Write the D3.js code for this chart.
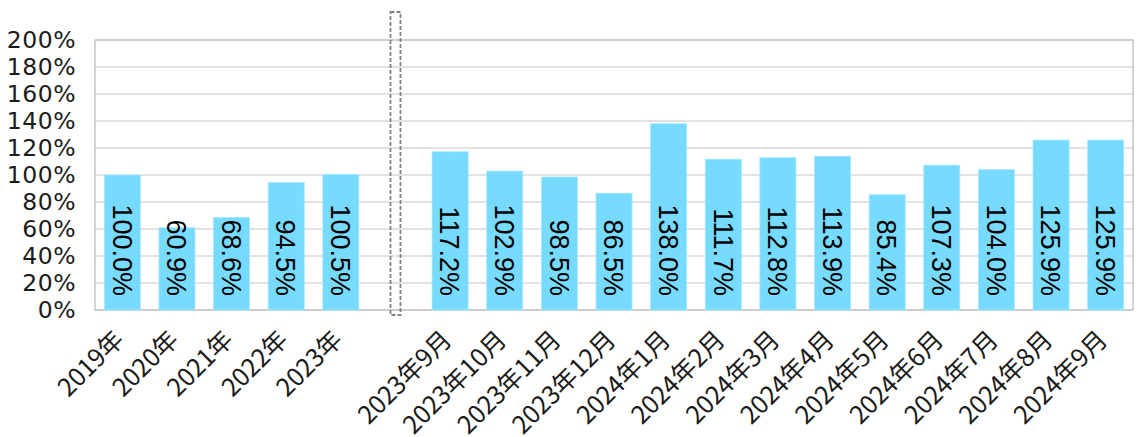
<!DOCTYPE html>
<html>
<head>
<meta charset="utf-8">
<script src="https://cdn.jsdelivr.net/npm/d3@7.9.0/dist/d3.min.js"></script>
<style>
  body { margin: 0; background: #fff; }
  svg { display: block; }
</style>
</head>
<body>
<svg id="chart" width="1142" height="437"></svg>
<script>
// categories: a blank slot separates the yearly bars from the monthly ones
const categories = ['2019年', '2020年', '2021年', '2022年', '2023年', '',
    '2023年9月', '2023年10月', '2023年11月', '2023年12月',
    '2024年1月', '2024年2月', '2024年3月', '2024年4月', '2024年5月',
    '2024年6月', '2024年7月', '2024年8月', '2024年9月'];
const values = [100.0, 60.9, 68.6, 94.5, 100.5, null,
    117.2, 102.9, 98.5, 86.5, 138.0, 111.7, 112.8, 113.9, 85.4,
    107.3, 104.0, 125.9, 125.9];
const yTicks = [0, 20, 40, 60, 80, 100, 120, 140, 160, 180, 200];

const svg = d3.select('#chart');
const plotLeft = 95, plotRight = 1133, plotTop = 40, plotBottom = 310;

const x = d3.scaleBand()
    .domain(categories.map((c, i) => i))
    .range([plotLeft, plotRight])
    .paddingInner(0.34)
    .paddingOuter(0.17);

const y = d3.scaleLinear().domain([0, 200]).range([plotBottom, plotTop]);

// grid lines
svg.append('g')
    .selectAll('line')
    .data(yTicks)
    .join('line')
    .attr('x1', plotLeft)
    .attr('x2', plotRight)
    .attr('y1', (d) => y(d))
    .attr('y2', (d) => y(d))
    .attr('stroke', '#d9d9d9')
    .attr('stroke-width', 1.5);

// plot frame
svg.append('rect')
    .attr('x', plotLeft)
    .attr('y', plotTop)
    .attr('width', plotRight - plotLeft)
    .attr('height', plotBottom - plotTop)
    .attr('fill', 'none')
    .attr('stroke', '#c6c6c6')
    .attr('stroke-width', 1.5);

// y tick labels
svg.append('g')
    .selectAll('text')
    .data(yTicks)
    .join('text')
    .attr('x', 76)
    .attr('y', (d) => y(d))
    .attr('dy', '0.36em')
    .attr('text-anchor', 'end')
    .attr('font-family', 'DejaVu Sans, sans-serif')
    .attr('font-size', 23.5)
    .attr('letter-spacing', 0.5)
    .attr('fill', '#1a1a1a')
    .text((d) => `${d}%`);

const data = categories.map((c, i) => ({ i, label: c, value: values[i] }));
const barData = data.filter((d) => d.value !== null);

// bars
svg.append('g')
    .selectAll('rect')
    .data(barData)
    .join('rect')
    .attr('x', (d) => x(d.i))
    .attr('y', (d) => y(d.value))
    .attr('width', x.bandwidth())
    .attr('height', (d) => y(0) - y(d.value))
    .attr('fill', '#77daff')
    .attr('stroke', '#a8e8ff')
    .attr('stroke-width', 0.8);

// value labels, rotated and anchored at the bar base
svg.append('g')
    .selectAll('text')
    .data(barData)
    .join('text')
    .attr('transform', (d) => `translate(${x(d.i) + x.bandwidth() / 2},${y(0) - 14}) rotate(90)`)
    .attr('text-anchor', 'end')
    .attr('dy', '0.36em')
    .attr('font-family', 'Liberation Sans, Arial, sans-serif')
    .attr('font-size', 27)
    .attr('fill', '#000')
    .text((d) => `${d.value.toFixed(1)}%`);

// dashed separator in the blank slot
const gapIndex = categories.indexOf('');
const gx = x(gapIndex) + x.bandwidth() / 2;
svg.append('rect')
    .attr('x', gx - 5)
    .attr('y', 12)
    .attr('width', 10)
    .attr('height', 303)
    .attr('fill', 'none')
    .attr('stroke', '#808080')
    .attr('stroke-width', 1.8)
    .attr('stroke-dasharray', '4,2');

// category labels
svg.append('g')
    .selectAll('text')
    .data(data.filter((d) => d.label !== ''))
    .join('text')
    .attr('transform', (d) => `translate(${x(d.i) + x.bandwidth() / 2 - 3},${plotBottom + 25}) rotate(-45)`)
    .attr('text-anchor', 'end')
    .attr('dy', '0.35em')
    .attr('font-family', 'Noto Sans CJK JP, sans-serif')
    .attr('font-size', 25)
    .attr('fill', '#1a1a1a')
    .text((d) => d.label);
</script>
</body>
</html>
